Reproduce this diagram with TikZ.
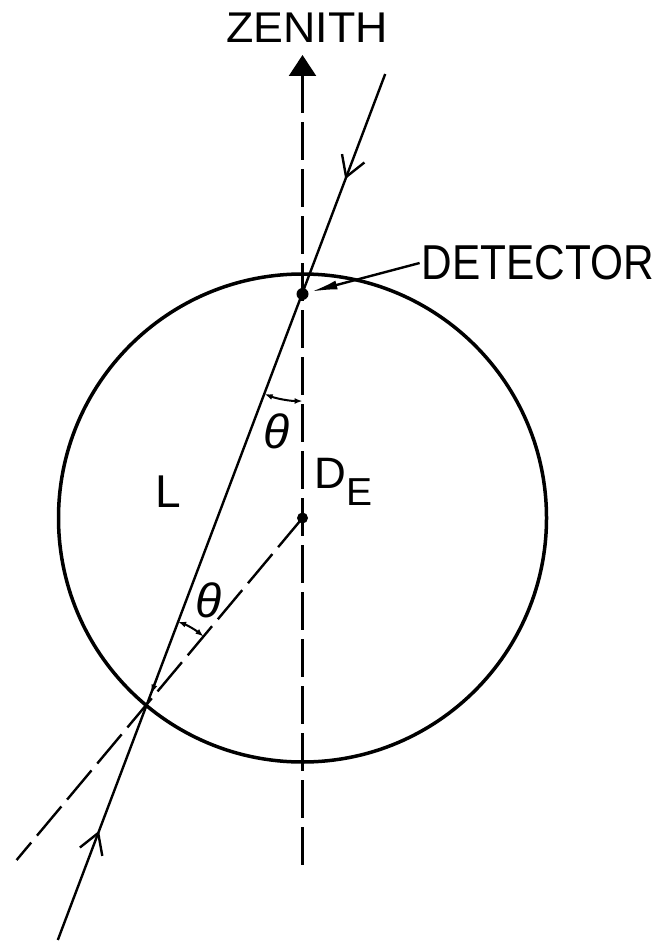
\documentclass[tikz,border=0pt]{standalone}
\usepackage{fontspec}
\setmainfont{Liberation Sans}
\usetikzlibrary{arrows.meta}
\tikzset{
  solidline/.style={line width=2.4pt},
  dashline/.style={line width=2.4pt, dash pattern=on 38pt off 9pt},
  earth/.style={line width=3.5pt},
  dotnode/.style={circle, fill=black, inner sep=0pt, minimum size=12pt},
  smallarr/.style={line width=2pt, {Latex[length=8pt,width=6pt]}-{Latex[length=8pt,width=6pt]}},
  biglbl/.style={inner sep=0pt, font=\fontsize{43}{43}\selectfont},
}
\begin{document}
\begin{tikzpicture}[x=1pt,y=-1pt]
\useasboundingbox (0,0) rectangle (664,941);
% points
\coordinate (C) at (302.5,518);
\coordinate (T) at (385.2,74);
\coordinate (B) at (57.8,940);
\coordinate (P) at (147,704);
\coordinate (E) at (16.6,860);
\coordinate (Ztip) at (302.5,55);
\coordinate (Zbot) at (302.5,872);
% earth
\draw[earth] (C) circle[radius=244];
% zenith
\draw[dashline, {Triangle[length=21pt,width=27pt]}-] (Ztip) -- (Zbot);
\node[biglbl] (zen) at (307,28) {\scalebox{1.04}[1]{ZENITH}};
% dots
\node[dotnode] (ddot) at (302.5,294) {};
\node[dotnode, minimum size=11pt] (ctr) at (C) {};
% neutrino line
\draw[solidline] (T) -- (B);
% dashed radius
\draw[dashline] (ctr.center) -- (E);
% V arrows on the line
\draw[solidline] (364.4,162.5) -- (346.1,177) -- (342.0,154.1);
\draw[solidline] (102.3,855.9) -- (98.2,833) -- (79.9,847.5);
% small arrowhead near P
\draw[line width=1.5pt, -{Latex[length=10pt,width=6pt]}] (157.5,677) -- (150.8,694.5);
% detector label and arrow
\node[inner sep=2pt] (det) at (538,263) {\scalebox{0.865}[1]{\fontsize{49}{49}\selectfont DETECTOR}};
\draw[solidline, -{Latex[length=26pt,width=9pt]}, shorten >=3pt] (det.west) -- (ddot);
% theta arcs
\draw[smallarr] (264.7,394.1) arc[start angle=110.7, end angle=90, radius=107];
\draw[smallarr] (178.1,621.7) arc[start angle=-69.3, end angle=-50.1, radius=88];
% labels
\node[inner sep=0pt, font=\fontsize{48}{48}\selectfont\itshape] (th1) at (277,431) {θ};
\node[inner sep=0pt, font=\fontsize{48}{48}\selectfont\itshape] (th2) at (209,600) {θ};
\node[inner sep=0pt, font=\fontsize{46}{46}\selectfont] (L) at (168.5,491.5) {L};
\node[inner sep=0pt, anchor=base west, font=\fontsize{44}{44}\selectfont] (DE) at (314.5,488) {D\raisebox{-17pt}{\fontsize{39}{39}\selectfont E}};
\end{tikzpicture}
\end{document}
